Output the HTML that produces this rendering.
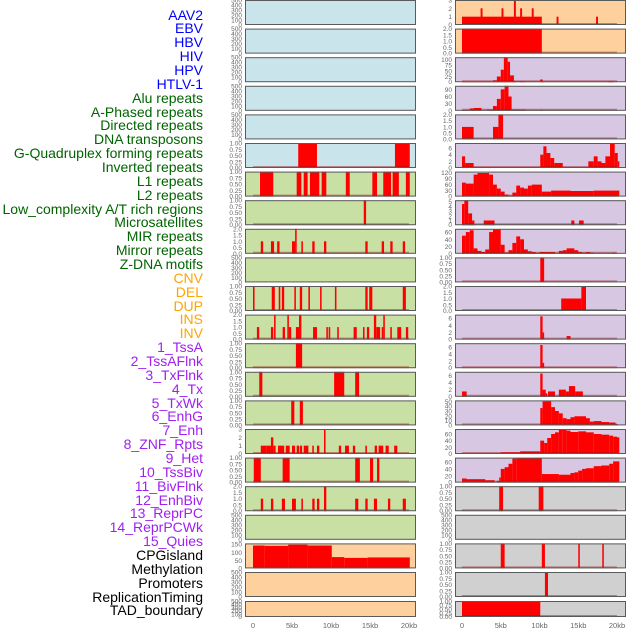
<!DOCTYPE html>
<html><head><meta charset="utf-8">
<style>
html,body{margin:0;padding:0;background:#fff;}
body{width:630px;height:630px;overflow:hidden;position:relative;font-family:"Liberation Sans",sans-serif;}
.lbl{position:absolute;right:427px;font-size:14px;line-height:14px;white-space:nowrap;text-align:right;}
</style></head>
<body>
<div id="labels"></div>
<svg id="chart" width="630" height="630" style="position:absolute;left:0;top:0"></svg>
<script>
// ---- track label data ----
const labelNames = ["AAV2","EBV","HBV","HIV","HPV","HTLV-1","Alu repeats","A-Phased repeats","Directed repeats","DNA transposons","G-Quadruplex forming repeats","Inverted repeats","L1 repeats","L2 repeats","Low_complexity A/T rich regions","Microsatellites","MIR repeats","Mirror repeats","Z-DNA motifs","CNV","DEL","DUP","INS","INV","1_TssA","2_TssAFlnk","3_TxFlnk","4_Tx","5_TxWk","6_EnhG","7_Enh","8_ZNF_Rpts","9_Het","10_TssBiv","11_BivFlnk","12_EnhBiv","13_ReprPC","14_ReprPCWk","15_Quies","CPGisland","Methylation","Promoters","ReplicationTiming","TAD_boundary"];
const labelGroups = [0,0,0,0,0,0,1,1,1,1,1,1,1,1,1,1,1,1,1,2,2,2,2,2,3,3,3,3,3,3,3,3,3,3,3,3,3,3,3,4,4,4,4,4];
const groupColors = ["#0000ff","#006400","#ffa500","#a020f0","#000000"];

// ---- tick sets ----
const t500Vals = [0,100,200,300,400,500]; const t500Labels = ["0","100","200","300","400","500"];
const t1Vals = [0,0.25,0.5,0.75,1]; const t1Labels = ["0.00","0.25","0.50","0.75","1.00"];
const t2Vals = [0,0.5,1,1.5,2]; const t2Labels = ["0.0","0.5","1.0","1.5","2.0"];
const t3Vals = [0,1,2,3]; const t3Labels = ["0","1","2","3"];
const t150Vals = [0,50,100,150]; const t150Labels = ["0","50","100","150"];
const t100Vals = [0,25,50,75,100]; const t100Labels = ["0","25","50","75","100"];
const t90Vals = [0,30,60,90]; const t90Labels = ["0","30","60","90"];
const t6Vals = [0,2,4,6]; const t6Labels = ["0","2","4","6"];
const t120Vals = [0,30,60,90,120]; const t120Labels = ["0","30","60","90","120"];
const t5Vals = [0,1,2,3,4,5]; const t5Labels = ["0","1","2","3","4","5"];
const t60Vals = [0,20,40,60]; const t60Labels = ["0","20","40","60"];
const t50Vals = [0,10,20,30,40,50]; const t50Labels = ["0","10","20","30","40","50"];

// ---- left column segments [startKb, endKb, value] ----
const L5 = [[5.8,8.2,1],[18.2,20.1,1]];
const L6 = [[0.9,2.6,1],[5.6,6.2,1],[6.5,7.0,1],[7.3,8.5,1],[8.8,9.4,1],[11.9,12.4,1],[15.3,15.9,1],[16.7,17.7,1],[17.9,18.7,1],[19.6,20.1,1]];
const L7 = [[14.2,14.5,1]];
const L8 = [[1.0,1.3,1],[2.3,2.7,1],[3.1,3.4,1],[5.0,5.4,1],[5.4,5.6,2],[6.2,6.4,1],[7.6,7.9,1],[9.1,9.4,1],[14.4,14.7,1],[16.5,16.8,1],[17.6,17.9,1],[19.2,19.5,1]];
const L10 = [[0,0.2,1],[2.4,2.8,1],[3.3,3.5,1],[3.7,4.0,1],[5.3,5.5,1],[6.0,6.3,1],[7.1,7.3,1],[8.6,8.8,1],[10.5,10.7,1],[14.4,14.7,1],[14.9,15.3,1],[19.2,19.6,1]];
const L11 = [[0.5,0.8,1],[2.3,2.6,1],[2.7,2.9,2],[3.8,4.1,1],[4.4,4.6,2],[4.6,4.9,1],[5.5,5.9,1],[5.9,6.2,2],[7.7,8.2,1],[9.4,9.6,1],[9.7,9.9,1],[10.8,11.0,1],[12.9,13.3,1],[14.1,14.3,1],[14.6,14.9,1],[15.5,15.8,2],[15.8,16.3,1],[16.5,16.7,1],[16.7,16.9,2],[17.6,17.8,1],[18.5,19.0,1],[19.6,19.9,1]];
const L12 = [[5.5,6.3,1]];
const L13 = [[0.8,1.2,1],[10.4,11.7,1],[13.1,13.6,1]];
const L14 = [[4.9,5.3,1],[6.0,6.4,1]];
const L15 = [[1.0,1.7,1],[1.7,2.3,1],[2.3,2.6,2],[2.6,2.9,1],[3.2,4.0,1],[4.2,4.7,1],[5.0,5.4,1],[5.6,5.9,1],[6.0,6.3,1],[6.5,7.1,1],[7.6,7.8,1],[8.2,8.5,1],[9.1,9.3,3],[11.0,11.3,1],[11.8,12.3,1],[12.8,13.1,1],[14.4,14.6,1],[15.6,15.9,1],[16.1,16.7,1],[17.0,17.4,1],[18.1,18.5,1]];
const L16 = [[0.1,1.0,1],[3.8,4.7,1],[13.1,13.7,1],[15.0,15.4,1],[15.9,16.2,1]];
const L17 = [[1.0,1.3,1],[2.3,2.6,1],[3.7,4.1,1],[5.0,5.5,1],[6.2,6.4,1],[7.6,7.9,1],[8.2,8.5,1],[9.1,9.4,2],[13.1,13.5,1],[14.4,14.7,1],[15.5,15.9,1],[17.3,17.6,1],[19.2,19.6,1]];
const L19 = [[0,1.5,142],[1.5,4.5,140],[4.5,7,147],[7,10.1,142],[10.1,11.7,70],[11.7,14.7,65],[14.7,20.1,68]];

// ---- right column segments ----
const R0 = [[0,10.3,1],[2.4,2.65,2],[5.1,5.35,2],[6.7,6.95,3],[7.5,7.75,2],[9.0,9.25,2],[12.2,12.45,1],[17.3,17.55,1]];
const R1 = [[0,10.3,2]];
const R2 = [[0,3,1],[3,4,3],[4,4.5,8],[4.5,5,25],[5,5.4,55],[5.4,5.9,110],[5.9,6.2,90],[6.2,6.7,30],[6.7,7,5],[7.4,8.1,4],[10.1,10.4,12],[10.4,10.6,3],[18.9,19.5,5]];
const R3 = [[0,1,3],[1,1.5,10],[1.5,2.5,12],[3.2,4,5],[4,4.5,20],[4.5,5,50],[5,5.5,90],[5.5,6,105],[6,6.4,60],[6.4,8.2,5],[10.1,10.4,3]];
const R4 = [[0,1.5,1],[4.0,4.7,1],[4.7,5.3,2]];
const R5 = [[0,0.4,3.5],[0.4,1.5,1.5],[10.1,10.5,4],[10.5,10.9,6.5],[10.9,11.4,4.5],[11.4,11.9,3],[11.9,13,1.5],[16.3,17,2],[17,17.5,3.5],[17.5,18,2],[18,18.5,1.5],[18.5,19.1,3.5],[19.1,19.7,7.5],[19.7,20.1,4.5],[20.1,20.3,2]];
const R6 = [[0,0.5,70],[0.5,1.5,65],[1.5,2,110],[2,3.5,118],[3.5,4,110],[4,4.5,60],[4.5,5,40],[5,5.5,25],[5.5,6,10],[6,6.5,5],[6.5,7,20],[7,7.5,55],[7.5,8,45],[8,8.5,40],[8.5,9,55],[9,10.3,60],[10.3,11.5,25],[11.5,14,30],[14,17,28],[17,20.3,30]];
const R7 = [[0,0.3,4.5],[0.3,0.8,5.3],[0.8,1.3,2.5],[1.3,1.6,1],[2.8,4.2,1],[14.1,14.5,1],[15.1,15.7,1]];
const R8 = [[0,0.5,50],[0.5,1,60],[1,1.5,65],[1.5,2,15],[2,2.5,8],[2.5,3,5],[3,3.5,12],[3.5,4,60],[4,5,68],[5,5.5,25],[5.5,6,3],[6,6.5,10],[6.5,7,30],[7,7.5,48],[7.5,8,40],[8,8.5,12],[8.5,9,7],[9,9.5,5],[9.5,10,2],[10,12,5],[12.5,13,8],[13,13.5,10],[13.5,14.5,15],[14.5,15,10],[15,15.5,5],[15.5,16,3],[16,16.5,5],[16.5,17,3],[19.4,19.8,3]];
const R9 = [[10.1,10.6,1]];
const R10 = [[12.8,15.4,1],[15.4,16.0,2]];
const R11 = [[10.1,10.4,6.5],[10.4,10.6,2],[13.5,14.0,1]];
const R12 = [[10.1,10.4,6.5],[10.4,10.6,1.5]];
const R13 = [[0,0.6,1.5],[10.1,10.4,6.5],[10.4,10.8,2],[10.8,11,1],[11.1,12,1.5],[12.5,13.4,2],[13.4,13.8,1.5],[13.8,14.6,3],[14.6,15.6,1.5]];
const R14 = [[10.1,10.4,36],[10.4,11.5,50],[11.5,12,38],[12,12.5,30],[12.5,13,25],[13,13.5,15],[13.5,14,13],[14,14.5,17],[14.5,16,19],[16,16.5,15],[16.5,17,8],[17,18,9],[18,19,7],[19,19.8,6],[19.8,20.1,3]];
const R15 = [[0,5,2],[5,7.5,5],[7.5,10.1,8],[10.1,10.6,40],[10.6,11,33],[11,11.5,48],[11.5,12,60],[12,12.5,65],[12.5,13,73],[13,13.5,72],[13.5,14,70],[14,15,66],[15,16,68],[16,17,65],[17,18,60],[18,19,58],[19,19.5,55],[19.5,20,52],[20,20.3,50]];
const R16 = [[0,0.6,12],[0.6,3,10],[3,4.2,7],[4.5,4.8,5],[4.8,5,15],[5,5.5,40],[5.5,6,45],[6,6.5,55],[6.5,7,70],[7,10.3,72],[10.3,12.5,25],[12.5,14,23],[14,14.5,28],[14.5,15,30],[15,15.5,35],[15.5,16,40],[16,17,42],[17,18,48],[18,19,50],[19,19.5,55],[19.5,20.3,62]];
const R17 = [[4.8,5.3,1],[9.9,10.5,1]];
const R19 = [[5.0,5.5,1],[10.3,10.7,1],[15.0,15.2,1],[18.1,18.3,1]];
const R20 = [[10.7,11.1,1]];
const R21 = [[0,10.1,1]];

const xTickVals = [0,5,10,15,20];
const xTickLabels = ["0","5kb","10kb","15kb","20kb"];

const BLUE="#c9e4eb", GREEN="#c9e0a5", ORANGE="#fed09d", PURPLE="#d8c7e2", GREY="#d0d0d0";
const E=null;
const leftPanels = [
 [BLUE,E,500,t500Vals,t500Labels],[BLUE,E,500,t500Vals,t500Labels],[BLUE,E,500,t500Vals,t500Labels],[BLUE,E,500,t500Vals,t500Labels],[BLUE,E,500,t500Vals,t500Labels],
 [BLUE,L5,1,t1Vals,t1Labels],[GREEN,L6,1,t1Vals,t1Labels],[GREEN,L7,1,t1Vals,t1Labels],[GREEN,L8,2,t2Vals,t2Labels],[GREEN,E,500,t500Vals,t500Labels],
 [GREEN,L10,1,t1Vals,t1Labels],[GREEN,L11,2,t2Vals,t2Labels],[GREEN,L12,1,t1Vals,t1Labels],[GREEN,L13,1,t1Vals,t1Labels],[GREEN,L14,1,t1Vals,t1Labels],
 [GREEN,L15,3,t3Vals,t3Labels],[GREEN,L16,1,t1Vals,t1Labels],[GREEN,L17,2,t2Vals,t2Labels],[GREEN,E,500,t500Vals,t500Labels],[ORANGE,L19,155,t150Vals,t150Labels],
 [ORANGE,E,500,t500Vals,t500Labels],[ORANGE,E,500,t500Vals,t500Labels]];
const rightPanels = [
 [ORANGE,R0,3,t3Vals,t3Labels],[ORANGE,R1,2,t2Vals,t2Labels],[PURPLE,R2,110,t100Vals,t100Labels],[PURPLE,R3,105,t90Vals,t90Labels],[PURPLE,R4,2,t2Vals,t2Labels],
 [PURPLE,R5,7.5,t6Vals,t6Labels],[PURPLE,R6,125,t120Vals,t120Labels],[PURPLE,R7,5.3,t5Vals,t5Labels],[PURPLE,R8,69,t60Vals,t60Labels],[PURPLE,R9,1,t1Vals,t1Labels],
 [PURPLE,R10,2,t2Vals,t2Labels],[PURPLE,R11,7,t6Vals,t6Labels],[PURPLE,R12,7,t6Vals,t6Labels],[PURPLE,R13,7,t6Vals,t6Labels],[PURPLE,R14,52,t50Vals,t50Labels],
 [PURPLE,R15,75,t60Vals,t60Labels],[PURPLE,R16,73,t60Vals,t60Labels],[GREY,R17,1,t1Vals,t1Labels],[GREY,E,500,t500Vals,t500Labels],[GREY,R19,1,t1Vals,t1Labels],
 [GREY,R20,1,t1Vals,t1Labels],[GREY,R21,1,t1Vals,t1Labels]];

// ---- labels ----
const labDiv = document.getElementById('labels');
labelNames.forEach((n,i)=>{
  const d=document.createElement('div');
  d.className='lbl';
  d.style.top=(15+i*13.86-7.5)+'px';
  d.style.color=groupColors[labelGroups[i]];
  d.textContent=n;
  
  
  labDiv.appendChild(d);
});

// ---- chart ----
const NS="http://www.w3.org/2000/svg";
const svg=document.getElementById('chart');
function mk(tag,attrs,parent){const e=document.createElementNS(NS,tag);for(const k in attrs)e.setAttribute(k,attrs[k]);(parent||svg).appendChild(e);return e;}
function rowTop(r){return r<21? r*28.6 : 601;}
function rowH(r){return r<21? 25 : 16;}
const cols=[{panels:leftPanels,x0:245,x1:416,z:253,k:7.8},{panels:rightPanels,x0:455,x1:626,z:462,k:7.75}];
cols.forEach((c,ci)=>{
  const xs=kb=>c.z+kb*c.k;
  c.panels.forEach((p,r)=>{
    const [bg,segs,ymax,tv,tl]=p;
    const top=rowTop(r), h=rowH(r), bot=top+h;
    const ys=v=>bot-(v/ymax)*h;
    const g=mk('g',{});
    
    
    mk('rect',{x:c.x0,y:top,width:c.x1-c.x0,height:h,fill:bg},g);
    if(segs){
      segs.forEach(s=>{
        const b=mk('rect',{x:xs(s[0]),y:ys(s[2]),width:Math.max(1,xs(s[1])-xs(s[0])),height:bot-ys(s[2]),fill:'#ff0000'},g);
        
        
      });
      mk('line',{x1:xs(0),x2:xs(20),y1:bot-1,y2:bot-1,stroke:'rgba(150,20,20,0.45)','stroke-width':2},g);
    }
    mk('rect',{x:c.x0+0.5,y:top+0.5,width:c.x1-c.x0-1,height:h-1,fill:'none',stroke:'#5a5a5a','stroke-width':1},g);
    tv.forEach((v,i)=>{
      const t=mk('text',{x:c.x0-3,y:Math.min(ys(v)+2.5,bot+2),'font-size':6.5,fill:'#666','text-anchor':'end','font-family':'Liberation Sans, sans-serif'},g);
      t.textContent=tl[i];
      
      
    });
  });
  xTickVals.forEach((v,i)=>{
    const t=mk('text',{x:xs(v),y:628,'font-size':7.5,fill:'#666','text-anchor':'middle','font-family':'Liberation Sans, sans-serif'});
    t.textContent=xTickLabels[i];
    
    
  });
});
</script>
</body></html>
